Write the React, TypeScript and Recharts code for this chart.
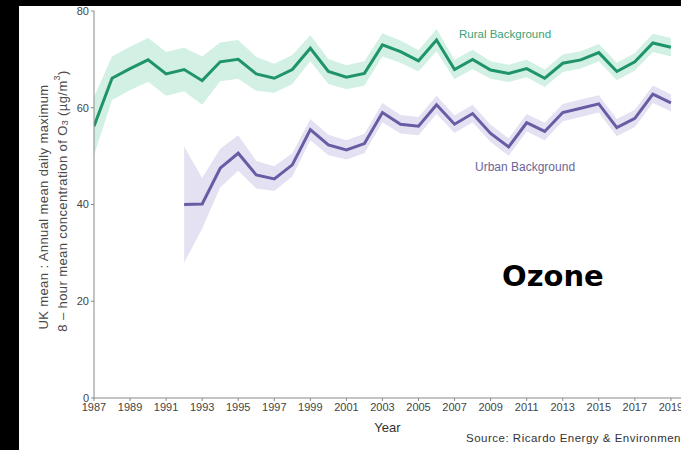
import { ComposedChart, Area, Line, XAxis, YAxis, Label } from "recharts";

// Annual mean of daily max 8-hour ozone, UK, by site type
const years = [
  1987, 1988, 1989, 1990, 1991, 1992, 1993, 1994, 1995, 1996, 1997, 1998, 1999,
  2000, 2001, 2002, 2003, 2004, 2005, 2006, 2007, 2008, 2009, 2010, 2011, 2012,
  2013, 2014, 2015, 2016, 2017, 2018, 2019,
];

const rural = [
  56.2, 66.1, 68.1, 69.9, 67.0, 67.9, 65.6, 69.5, 70.0, 67.0, 66.1, 67.9, 72.3,
  67.5, 66.3, 67.1, 73.0, 71.6, 69.7, 74.0, 67.9, 70.0, 67.8, 67.1, 68.1, 66.1,
  69.2, 69.9, 71.4, 67.5, 69.5, 73.4, 72.5,
];
const ruralLow = [
  50.2, 61.6, 63.6, 65.4, 62.5, 63.4, 60.6, 65.5, 66.0, 63.5, 63.1, 64.9, 69.6,
  64.9, 63.8, 64.6, 70.6, 69.3, 67.5, 71.7, 65.9, 68.0, 66.0, 65.3, 66.3, 64.3,
  67.4, 68.1, 69.6, 65.7, 67.7, 71.5, 70.6,
];
const ruralHigh = [
  62.2, 70.6, 72.6, 74.4, 71.5, 72.4, 70.6, 73.5, 74.0, 70.5, 69.1, 70.9, 75.0,
  70.1, 68.8, 69.6, 75.4, 73.9, 71.9, 76.3, 69.9, 72.0, 69.6, 68.9, 69.9, 67.9,
  71.0, 71.7, 73.2, 69.3, 71.3, 75.3, 74.4,
];

const urban = [
  null, null, null, null, null, 40.0, 40.1, 47.5, 50.6, 46.1, 45.3, 48.2, 55.5,
  52.3, 51.3, 52.6, 59.0, 56.6, 56.2, 60.6, 56.6, 58.8, 54.7, 51.9, 56.9, 55.1,
  59.0, 59.9, 60.8, 55.9, 57.8, 62.8, 61.0,
];
const urbanLow = [
  null, null, null, null, null, 28.0, 35.0, 43.5, 47.0, 43.3, 42.8, 45.8, 53.3,
  50.2, 49.3, 50.6, 57.0, 54.7, 54.3, 58.7, 54.8, 57.0, 52.9, 50.1, 55.1, 53.3,
  57.2, 58.1, 59.0, 54.1, 56.0, 61.0, 59.2,
];
const urbanHigh = [
  null, null, null, null, null, 52.0, 45.5, 51.5, 54.3, 49.0, 47.9, 50.6, 57.7,
  54.4, 53.3, 54.6, 61.0, 58.5, 58.1, 62.5, 58.4, 60.6, 56.5, 53.7, 58.7, 56.9,
  60.8, 61.7, 62.6, 57.7, 59.6, 64.6, 62.8,
];

const xTicks = [
  1987, 1989, 1991, 1993, 1995, 1997, 1999, 2001, 2003, 2005, 2007, 2009, 2011,
  2013, 2015, 2017, 2019,
];
const yTicks = [0, 20, 40, 60, 80];

const data = years.map((year, i) => ({
  year,
  rural: rural[i],
  ruralBand: [ruralLow[i], ruralHigh[i]],
  urban: urban[i],
  urbanBand: urbanLow[i] == null ? null : [urbanLow[i], urbanHigh[i]],
}));

const FONT = '"Liberation Sans", Arial, sans-serif';
const RURAL = "#1f9468";
const RURAL_BAND = "#d2f0e3";
const URBAN = "#685ca4";
const URBAN_BAND = "#e4e2f2";

function YTitle() {
  return (
    <g fill="#4a4a4a" fontSize={13} fontFamily={FONT} letterSpacing={0.4}>
      <text
        transform="translate(43,207) rotate(-90)"
        textAnchor="middle"
        dominantBaseline="central"
      >
        UK mean : Annual mean daily maximum
      </text>
      <text
        transform="translate(62,201) rotate(-90)"
        textAnchor="middle"
        dominantBaseline="central"
      >
        8 – hour mean concentration of O
        <tspan fontSize={9} dy={3}>3</tspan>
        <tspan dy={-3}> (µg/m</tspan>
        <tspan fontSize={9} dy={-5}>3</tspan>
        <tspan dy={5}>)</tspan>
      </text>
    </g>
  );
}

export default function App() {
  return (
    <div
      style={{
        position: "absolute",
        left: 0,
        top: 0,
        width: 681,
        height: 450,
        background: "#000",
        overflow: "hidden",
        fontFamily: FONT,
      }}
    >
      <div
        style={{
          position: "absolute",
          left: 19,
          top: 6,
          right: 0,
          bottom: 0,
          background: "#fff",
        }}
      />
      <div style={{ position: "absolute", left: 0, top: 0 }}>
        <ComposedChart
          width={700}
          height={450}
          data={data}
          margin={{ top: 11, right: 19, bottom: 0, left: 60 }}
        >
          <XAxis
            dataKey="year"
            type="number"
            domain={[1987, 2019.56]}
            allowDataOverflow
            ticks={xTicks}
            interval={0}
            height={52}
            tickSize={3}
            tickMargin={2}
            axisLine={{ stroke: "#888" }}
            tickLine={{ stroke: "#888" }}
            tick={{ fill: "#444", fontSize: 11, fontFamily: FONT }}
          >
            <Label
              value="Year"
              position="insideBottom"
              offset={18}
              fill="#333"
              fontSize={13}
              fontFamily={FONT}
            />
          </XAxis>
          <YAxis
            domain={[0, 80]}
            ticks={yTicks}
            width={34}
            tickSize={3}
            tickMargin={2}
            axisLine={{ stroke: "#888" }}
            tickLine={{ stroke: "#888" }}
            tick={{ fill: "#444", fontSize: 11, fontFamily: FONT }}
          >
            <Label content={() => <YTitle />} />
          </YAxis>
          <Area
            dataKey="ruralBand"
            type="linear"
            stroke="none"
            fill={RURAL_BAND}
            fillOpacity={1}
            isAnimationActive={false}
          />
          <Area
            dataKey="urbanBand"
            type="linear"
            stroke="none"
            fill={URBAN_BAND}
            fillOpacity={1}
            isAnimationActive={false}
          />
          <Line
            dataKey="rural"
            type="linear"
            stroke={RURAL}
            strokeWidth={3}
            dot={false}
            activeDot={false}
            isAnimationActive={false}
          />
          <Line
            dataKey="urban"
            type="linear"
            stroke={URBAN}
            strokeWidth={3}
            dot={false}
            activeDot={false}
            isAnimationActive={false}
          />
        </ComposedChart>
      </div>
      <div
        style={{
          position: "absolute",
          left: 459,
          top: 28,
          fontSize: 11.5,
          color: "#3a9f76",
          whiteSpace: "nowrap",
        }}
      >
        Rural Background
      </div>
      <div
        style={{
          position: "absolute",
          left: 475,
          top: 160,
          fontSize: 12,
          color: "#6b6699",
          whiteSpace: "nowrap",
        }}
      >
        Urban Background
      </div>
      <div
        style={{
          position: "absolute",
          left: 502,
          top: 259,
          fontSize: 29,
          fontWeight: "bold",
          fontFamily: '"DejaVu Sans", sans-serif',
          color: "#000",
          whiteSpace: "nowrap",
        }}
      >
        Ozone
      </div>
      <div
        style={{
          position: "absolute",
          left: 466,
          top: 432,
          fontSize: 11.5,
          letterSpacing: 0.5,
          color: "#333",
          whiteSpace: "nowrap",
        }}
      >
        Source: Ricardo Energy &amp; Environment
      </div>
    </div>
  );
}
